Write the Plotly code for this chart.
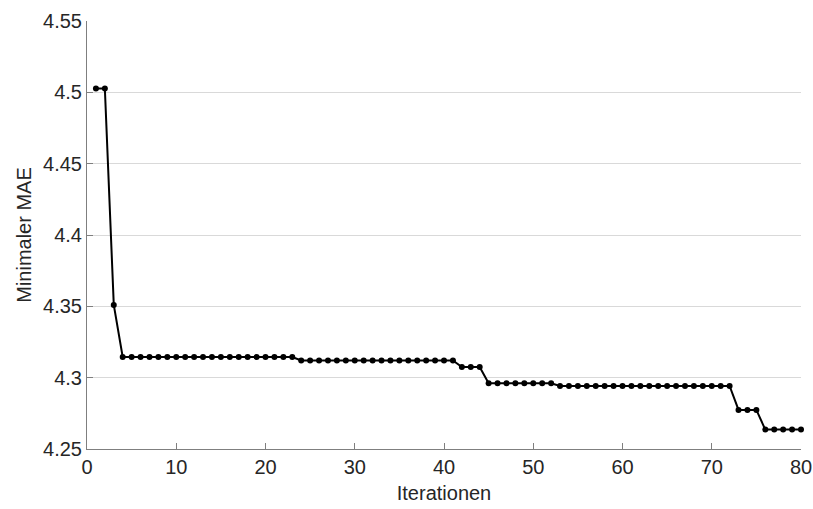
import plotly.graph_objects as go

iterations = list(range(1, 81))
min_mae = ([4.5027, 4.5027, 4.351]
           + [4.3145] * 20      # 4..23
           + [4.3120] * 18      # 24..41
           + [4.3075] * 3       # 42..44
           + [4.2961] * 8       # 45..52
           + [4.2942] * 20      # 53..72
           + [4.2774] * 3       # 73..75
           + [4.2636] * 5)      # 76..80

x_ticks = [0, 10, 20, 30, 40, 50, 60, 70, 80]
y_ticks = [4.25, 4.3, 4.35, 4.4, 4.45, 4.5, 4.55]
y_labels = ["4.25", "4.3", "4.35", "4.4", "4.45", "4.5", "4.55"]

fig = go.Figure(go.Scatter(
    x=iterations, y=min_mae, mode="lines+markers",
    line=dict(color="black", width=2),
    marker=dict(color="black", size=6),
    cliponaxis=False,
))

font = "Liberation Sans, Arial, sans-serif"
fig.update_layout(
    width=813, height=509,
    margin=dict(l=87, r=12, t=21, b=60),
    plot_bgcolor="white", paper_bgcolor="white",
    showlegend=False,
    font=dict(family=font, size=20, color="#262626"),
)
fig.update_xaxes(
    range=[0, 80], tickvals=x_ticks, automargin=False,
    showgrid=False, zeroline=False,
    showline=True, linecolor="#7f7f7f", linewidth=1,
    ticks="inside", ticklen=6, tickcolor="#7f7f7f",
    title=dict(text="Iterationen", font=dict(size=20), standoff=8),
)
fig.update_yaxes(
    range=[4.25, 4.55], tickvals=y_ticks, ticktext=y_labels, automargin=False,
    showgrid=True, gridcolor="#d9d9d9", gridwidth=1, zeroline=False,
    showline=True, linecolor="#7f7f7f", linewidth=1,
    ticks="inside", ticklen=6, tickcolor="#7f7f7f",
    title=dict(text="Minimaler MAE", font=dict(size=20), standoff=6),
)

fig.write_html("out.html")
